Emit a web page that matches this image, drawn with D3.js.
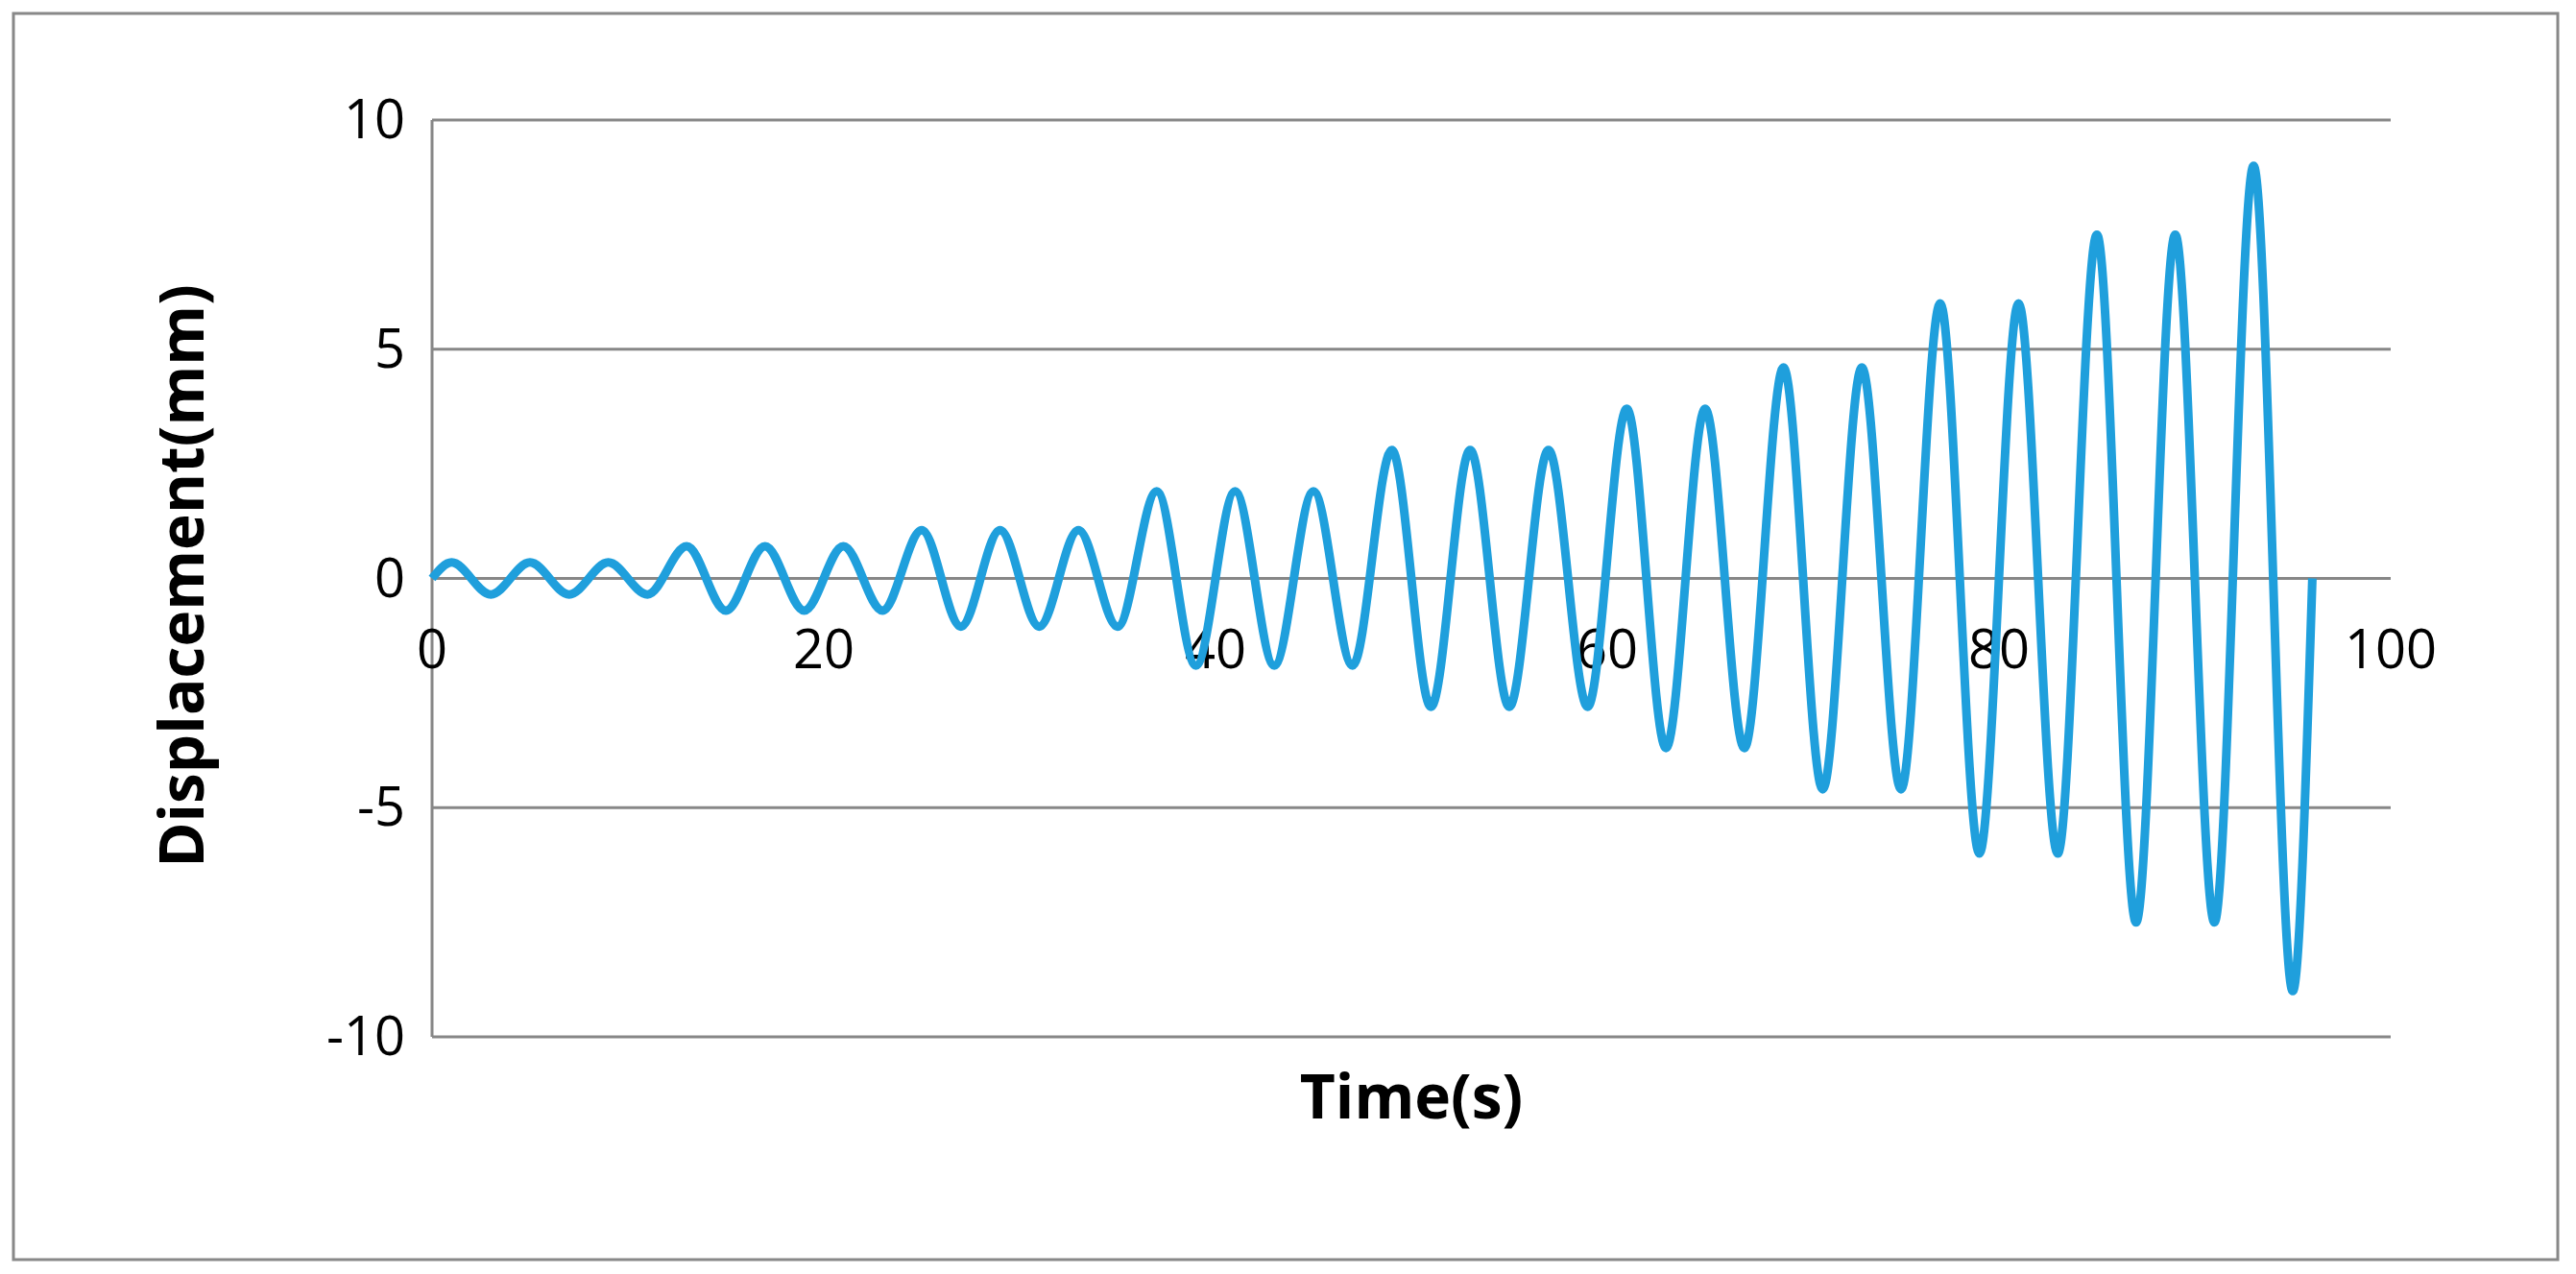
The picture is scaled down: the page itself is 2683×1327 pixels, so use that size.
<!DOCTYPE html>
<html>
<head>
<meta charset="utf-8">
<script src="https://cdn.jsdelivr.net/npm/d3@7"></script>
<style>
body { margin: 0; background: #fff; }
text { font-family: "Liberation Sans Narrow", "Open Sans", sans-serif; }
</style>
</head>
<body>
<div id="chart-area"></div>
<script>
// peaks (time, displacement), line starts and ends at 0
var peakTimes = [0, 1, 3, 5, 7, 9, 11, 13, 15, 17, 19, 21, 23, 25, 27, 29, 31, 33, 35,
    37, 39, 41, 43, 45, 47, 49, 51, 53, 55, 57, 59, 61, 63, 65, 67, 69, 71, 73, 75,
    77, 79, 81, 83, 85, 87, 89, 91, 93, 95, 96];
var peakDisp = [0, 0.35, -0.35, 0.35, -0.35, 0.35, -0.35, 0.7, -0.7, 0.7, -0.7, 0.7, -0.7,
    1.05, -1.05, 1.05, -1.05, 1.05, -1.05, 1.9, -1.9, 1.9, -1.9, 1.9, -1.9,
    2.8, -2.8, 2.8, -2.8, 2.8, -2.8, 3.7, -3.7, 3.7, -3.7, 4.6, -4.6, 4.6, -4.6,
    6.0, -6.0, 6.0, -6.0, 7.5, -7.5, 7.5, -7.5, 9.0, -9.0, 0];
var xTicks = [0, 20, 40, 60, 80, 100];
var yTicks = [-10, -5, 0, 5, 10];

var W = 2683, H = 1327;
var svg = d3.select("#chart-area").append("svg")
    .attr("width", W).attr("height", H);

svg.append("rect")
    .attr("x", 14).attr("y", 14).attr("width", 2650).attr("height", 1298)
    .attr("fill", "#fff").attr("stroke", "#888").attr("stroke-width", 3);

var x = d3.scaleLinear().domain([0, 100]).range([450, 2490]);
var y = d3.scaleLinear().domain([-10, 10]).range([1080, 125]);

// gridlines
svg.selectAll(".grid").data(yTicks).enter().append("line")
    .attr("x1", x(0)).attr("x2", x(100))
    .attr("y1", d => y(d)).attr("y2", d => y(d))
    .attr("stroke", "#878787").attr("stroke-width", 3);

svg.append("line")
    .attr("x1", x(0)).attr("x2", x(0))
    .attr("y1", y(10)).attr("y2", y(-10))
    .attr("stroke", "#878787").attr("stroke-width", 3);

// y labels
svg.selectAll(".ylab").data(yTicks).enter().append("text")
    .attr("x", x(0) - 28).attr("y", d => y(d) + 19)
    .attr("text-anchor", "end").attr("font-size", 56)
    .text(d => d);

// x labels sit just below the zero line
svg.selectAll(".xlab").data(xTicks).enter().append("text")
    .attr("x", d => x(d)).attr("y", y(0) + 93)
    .attr("text-anchor", "middle").attr("font-size", 56)
    .text(d => d);

var pts = peakTimes.map((t, i) => [t, peakDisp[i]]);
svg.append("path")
    .datum(pts)
    .attr("fill", "none")
    .attr("stroke", "#1f9fdc")
    .attr("stroke-width", 9)
    .attr("d", d3.line().x(d => x(d[0])).y(d => y(d[1])).curve(d3.curveMonotoneX));

svg.append("text")
    .attr("x", 1470).attr("y", 1165)
    .attr("text-anchor", "middle").attr("font-size", 64).attr("font-weight", "bold")
    .text("Time(s)");

svg.append("text")
    .attr("transform", "translate(212,600) rotate(-90)")
    .attr("text-anchor", "middle").attr("font-size", 64).attr("font-weight", "bold")
    .text("Displacement(mm)");
</script>
</body>
</html>
